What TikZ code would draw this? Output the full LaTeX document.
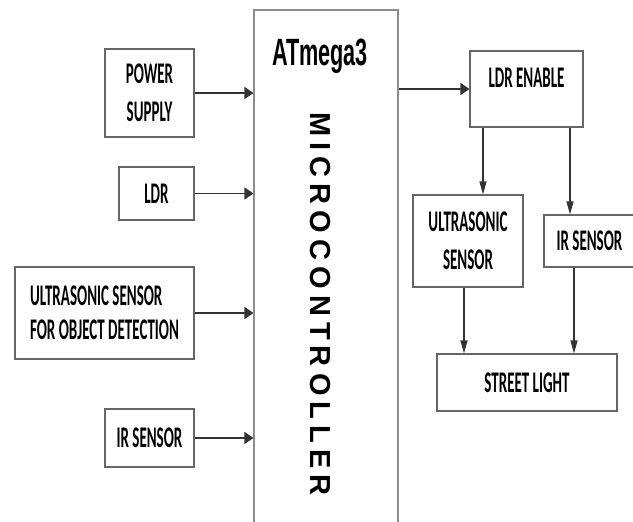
\documentclass[tikz,border=0pt]{standalone}
\usepackage{graphicx}
\usepackage{fontspec}
\setmainfont{Carlito}
\newfontfamily\arialfont{Liberation Sans}
\newfontfamily\spacedfont[LetterSpace=21]{Liberation Sans}
\usetikzlibrary{arrows.meta}

\newcommand{\thinlbl}[1]{\scalebox{0.5}[1]{#1}}

\begin{document}
\begin{tikzpicture}[x=1pt, y=-1pt,
    box/.style={draw=black!60, line width=1.1pt, inner sep=0pt, align=center,
      font=\bfseries\fontsize{30}{38}\selectfont},
    harr/.style={-{Triangle[length=9pt,width=12pt]}, line width=1.3pt, draw=black!80},
    varr/.style={-{Triangle[length=13pt,width=7pt]}, line width=1.1pt, draw=black!80}]
  \useasboundingbox (0,0) rectangle (633,522);
  % microcontroller
  \node[box, draw=black!45, minimum width=144, minimum height=540] (mcu) at (326,280) {};
  \node[anchor=base, inner sep=0pt, font=\arialfont\bfseries\fontsize{38}{42}\selectfont]
    (atmega) at (320,65) {\scalebox{0.57}[1]{ATmega3}};
  \node[rotate=-90, inner sep=0pt, font=\spacedfont\bfseries\fontsize{29}{32}\selectfont]
    (mcutxt) at (320,304) {MICROCONTROLLER};
  % inputs
  \node[box, minimum width=89, minimum height=88] (power) at (149.5,93)
    {\thinlbl{POWER}\\\thinlbl{SUPPLY}};
  \node[box, minimum width=75, minimum height=53] (ldr) at (156.5,193.5) {\thinlbl{LDR}};
  \node[box, minimum width=179, minimum height=92, align=left,
    font=\bfseries\fontsize{30}{34}\selectfont] (us) at (104.5,313)
    {\thinlbl{ULTRASONIC SENSOR}\\\thinlbl{FOR OBJECT DETECTION}};
  \node[box, minimum width=89, minimum height=58] (ir) at (149.5,438) {\thinlbl{IR SENSOR}};
  % outputs
  \node[box, minimum width=113, minimum height=76] (ldren) at (526.5,89) {};
  \node[inner sep=0pt, font=\bfseries\fontsize{30}{38}\selectfont]
    (ldrentxt) at ([yshift=11pt]ldren.center) {\thinlbl{LDR ENABLE}};
  \node[box, minimum width=110, minimum height=92] (us2) at (468,241)
    {\thinlbl{ULTRASONIC}\\\thinlbl{SENSOR}};
  \node[box, minimum width=91, minimum height=52] (ir2) at (589.5,241) {\thinlbl{IR SENSOR}};
  \node[box, minimum width=180, minimum height=57] (street) at (527,382.5) {\thinlbl{STREET LIGHT}};
  % connections
  \draw[harr] (power.east) -- (power.east -| mcu.west);
  \draw[harr] (ldr.east) -- (ldr.east -| mcu.west);
  \draw[harr] (us.east) -- (us.east -| mcu.west);
  \draw[harr] (ir.east) -- (ir.east -| mcu.west);
  \draw[harr] (mcu.east |- ldren.west) -- (ldren.west);
  \draw[varr] ([xshift=-43.5pt]ldren.south) -- ([xshift=-43.5pt]ldren.south |- us2.north);
  \draw[varr] ([xshift=43.5pt]ldren.south) -- ([xshift=43.5pt]ldren.south |- ir2.north);
  \draw[varr] ([xshift=-4pt]us2.south) -- ([xshift=-4pt]us2.south |- street.north);
  \draw[varr] ([xshift=-15.5pt]ir2.south) -- ([xshift=-15.5pt]ir2.south |- street.north);
\end{tikzpicture}
\end{document}
